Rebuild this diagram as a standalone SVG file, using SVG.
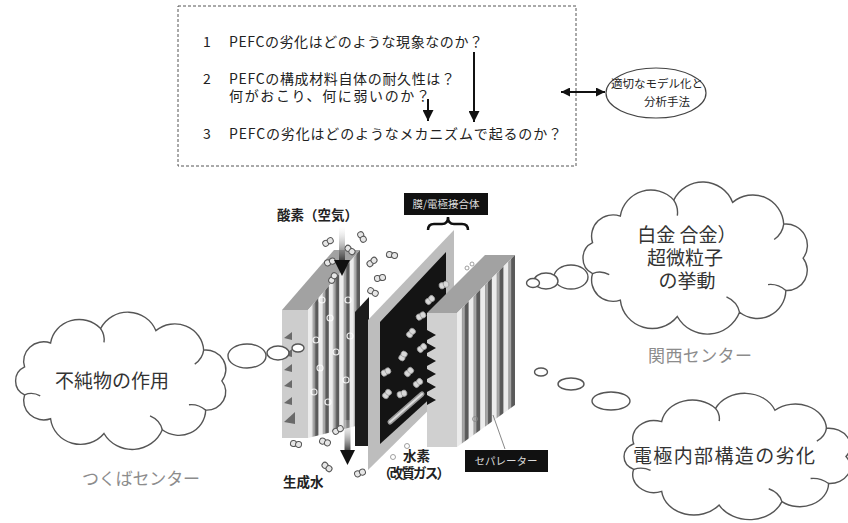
<svg xmlns="http://www.w3.org/2000/svg" xmlns:xlink="http://www.w3.org/1999/xlink" width="848" height="523" viewBox="0 0 848 523">
  <style>
    text { font-family: 'Noto Sans CJK JP', 'Noto Sans', sans-serif; }
    .q { font-size: 14px; fill: #222; }
    .m { font-size: 11.5px; fill: #222; }
    .cl { font-size: 19px; fill: #333; }
    .ctr { font-size: 17px; fill: #8c8c8c; }
    .bold { font-weight: 700; fill: #222; font-size: 13.5px; }
    .tag { font-size: 10.5px; fill: #dcdcdc; }
    .cloud { fill: #fff; stroke: #555; stroke-width: 1.4; }
    .curl { fill: none; stroke: #555; stroke-width: 1.4; }
    .bub { fill: #fff; stroke: #555; stroke-width: 1.4; }
    .arrow { stroke: #111; stroke-width: 2; fill: none; }
    .mol { fill: #e6e6e6; stroke: #555; stroke-width: 1; }
    .h2 { fill: #d8d8d8; stroke: #9a9a9a; stroke-width: 0.8; }
  </style>
  <defs>
    <marker id="head" viewBox="0 0 10 10" refX="10" refY="5" markerWidth="11" markerHeight="11" markerUnits="userSpaceOnUse" orient="auto-start-reverse">
      <path d="M0,0 L10,5 L0,10 Z" fill="#111"/>
    </marker>
    <marker id="headS" viewBox="0 0 10 10" refX="10" refY="5" markerWidth="9" markerHeight="9" markerUnits="userSpaceOnUse" orient="auto-start-reverse">
      <path d="M0,0 L10,5 L0,10 Z" fill="#111"/>
    </marker>
    <!-- generic cloud outline in a 200 x 125 box -->
    <path id="cloudShape" vector-effect="non-scaling-stroke" d="M190,62.5 A17,17 0 0 1 175.5,89.8 A24,24 0 0 1 136.6,108.2 A29,29 0 0 1 84.3,111.7 A27,27 0 0 1 36.4,97.9 A18,18 0 0 1 13.1,75.5 A14.5,14.5 0 0 1 13.1,49.5 A18,18 0 0 1 36.4,27.1 A26,26 0 0 1 81.3,13.6 A27,27 0 0 1 130.8,15.5 A26,26 0 0 1 173.7,33.8 A18,18 0 0 1 190,62.5 Z"/>
    <path id="cloudCurls" vector-effect="non-scaling-stroke" d="M136.6,108.2 q-2,-9 -11,-13 M13.1,75.5 q7,-3 14,1 M81.3,13.6 q4,6 3,13 M173.7,33.8 q-1,8 -8,13 M175.5,89.8 q-7,-6 -15,-5"/>
    <pattern id="ribL" patternUnits="userSpaceOnUse" width="10.4" height="20" patternTransform="translate(308 0)">
      <rect width="10.4" height="20" fill="#5a5a5a"/>
      <rect width="4.6" height="20" fill="#ececec"/>
      <rect x="4.6" width="2.4" height="20" fill="#a6a6a6"/>
    </pattern>
    <pattern id="ribR" patternUnits="userSpaceOnUse" width="11.6" height="20" patternTransform="translate(457 0)">
      <rect width="11.6" height="20" fill="#5a5a5a"/>
      <rect width="5" height="20" fill="#ececec"/>
      <rect x="5" width="2.8" height="20" fill="#a6a6a6"/>
    </pattern>
    <linearGradient id="shaft" x1="0" y1="0" x2="0" y2="1">
      <stop offset="0" stop-color="#fff" stop-opacity="0.2"/>
      <stop offset="1" stop-color="#333"/>
    </linearGradient>
    <g id="o2">
      <circle cx="-2.6" cy="0" r="3" class="mol"/>
      <circle cx="2.6" cy="0" r="3" class="mol"/>
    </g>
    <g id="hmol">
      <ellipse cx="-2.2" cy="0" rx="2.8" ry="3.2" class="h2"/>
      <ellipse cx="2.2" cy="0" rx="2.8" ry="3.2" class="h2"/>
    </g>
  </defs>

  <rect width="848" height="523" fill="#fff"/>

  <!-- research questions -->
  <g id="question-box">
    <rect x="178" y="6" width="398" height="160" fill="none" stroke="#555" stroke-width="1" stroke-dasharray="3 2"/>
    <text class="q" x="203" y="47">1</text>
    <text class="q" x="229" y="47" textLength="254" lengthAdjust="spacing">PEFCの劣化はどのような現象なのか？</text>
    <text class="q" x="203" y="84">2</text>
    <text class="q" x="229" y="84" textLength="226" lengthAdjust="spacing">PEFCの構成材料自体の耐久性は？</text>
    <text class="q" x="229" y="101" textLength="201" lengthAdjust="spacing">何がおこり、何に弱いのか？</text>
    <text class="q" x="203" y="139">3</text>
    <text class="q" x="229" y="139" textLength="333" lengthAdjust="spacing">PEFCの劣化はどのようなメカニズムで起るのか？</text>
  </g>

  <g id="modeling">
    <ellipse cx="656" cy="93" rx="50" ry="25" fill="#fff" stroke="#444" stroke-width="1.2"/>
    <text class="m" x="657" y="88" text-anchor="middle">適切なモデル化と</text>
    <text class="m" x="667" y="106" text-anchor="middle">分析手法</text>
  </g>

  <g id="connectors">
    <line class="arrow" x1="474" y1="52" x2="474" y2="122" marker-end="url(#head)"/>
    <line class="arrow" x1="428" y1="99" x2="428" y2="121" marker-end="url(#head)"/>
    <line class="arrow" x1="561" y1="92" x2="605" y2="92" stroke-width="1.5" marker-start="url(#headS)" marker-end="url(#headS)"/>
  </g>

  <!-- single cell, exploded view -->
  <g id="fuel-cell">
    <!-- cathode-side separator -->
    <rect x="282" y="310" width="26" height="128" fill="#cdcdcd"/>
    <polygon points="282,310 308,310 360,250 334,250" fill="#a2a2a2"/>
    <polygon points="308,310 360,250 360,425 308,438" fill="url(#ribL)"/>
    <g fill="#6a6a6a">
      <polygon points="284,338 292,332 292,340"/>
      <polygon points="284,355 292,349 292,357"/>
      <polygon points="284,370 292,364 292,372"/>
      <polygon points="284,386 292,380 292,388"/>
      <polygon points="284,403 292,397 292,405"/>
      <polygon points="284,422 295,412 295,424"/>
    </g>
    <g fill="none" stroke="#fff" stroke-width="1.2" opacity="0.85">
      <circle cx="316" cy="340" r="3"/>
      <circle cx="320" cy="368" r="3"/>
      <circle cx="314" cy="392" r="3"/>
      <circle cx="330" cy="318" r="3"/>
      <circle cx="336" cy="352" r="3"/>
      <circle cx="328" cy="402" r="3"/>
      <circle cx="348" cy="300" r="3"/>
      <circle cx="350" cy="336" r="3"/>
      <circle cx="346" cy="380" r="3"/>
      <circle cx="322" cy="300" r="3"/>
    </g>
    <!-- electrode layer -->
    <polygon points="355,312 369,297 369,446 355,446" fill="#1c1c1c"/>
    <!-- membrane electrode assembly -->
    <polygon points="368,320 454,230 454,385 368,470" fill="#bdbdbd"/>
    <polygon points="380,322 446,252 446,384 380,444" fill="#141414"/>
    <g>
      <use xlink:href="#hmol" transform="translate(444 285) rotate(-20)"/>
      <use xlink:href="#hmol" transform="translate(430 300) rotate(-40)"/>
      <use xlink:href="#hmol" transform="translate(421 316) rotate(-30)"/>
      <use xlink:href="#hmol" transform="translate(411 333) rotate(-50)"/>
      <use xlink:href="#hmol" transform="translate(422 348) rotate(-40)"/>
      <use xlink:href="#hmol" transform="translate(403 356) rotate(-60)"/>
      <use xlink:href="#hmol" transform="translate(409 372) rotate(-45)"/>
      <use xlink:href="#hmol" transform="translate(386 372) rotate(-30)"/>
      <use xlink:href="#hmol" transform="translate(418 383) rotate(-40)"/>
      <use xlink:href="#hmol" transform="translate(402 394) rotate(-20)"/>
      <use xlink:href="#hmol" transform="translate(387 394) rotate(-50)"/>
    </g>
    <line x1="390" y1="422" x2="422" y2="394" stroke="#9a9a9a" stroke-width="5" stroke-linecap="round"/>
    <line x1="390" y1="422" x2="422" y2="394" stroke="#dcdcdc" stroke-width="2" stroke-linecap="round"/>
    <!-- anode-side separator -->
    <rect x="427" y="313" width="30" height="134" fill="#d0d0d0"/>
    <polygon points="427,313 457,313 515,255 485,255" fill="#a2a2a2"/>
    <polygon points="457,313 515,255 515,405 457,447" fill="url(#ribR)"/>
    <g fill="#141414">
      <polygon points="427,330 436,335 427,340"/>
      <polygon points="427,343 436,348 427,353"/>
      <polygon points="427,356 436,361 427,366"/>
      <polygon points="427,369 436,374 427,379"/>
      <polygon points="427,382 436,387 427,392"/>
      <polygon points="427,395 436,400 427,405"/>
    </g>
    <!-- oxygen and product water -->
    <use xlink:href="#o2" transform="translate(328 242) rotate(-30)"/>
    <use xlink:href="#o2" transform="translate(362 237) rotate(60)"/>
    <use xlink:href="#o2" transform="translate(330 262) rotate(-20)"/>
    <use xlink:href="#o2" transform="translate(350 250) rotate(40)"/>
    <use xlink:href="#o2" transform="translate(392 255) rotate(10)"/>
    <use xlink:href="#o2" transform="translate(380 278) rotate(-10)"/>
    <use xlink:href="#o2" transform="translate(372 262) rotate(-40)"/>
    <use xlink:href="#o2" transform="translate(373 292) rotate(30)"/>
    <use xlink:href="#o2" transform="translate(333 278) rotate(-60)"/>
    <use xlink:href="#o2" transform="translate(325 442) rotate(20)"/>
    <use xlink:href="#o2" transform="translate(338 430) rotate(-30)"/>
    <use xlink:href="#o2" transform="translate(327 467) rotate(40)"/>
    <use xlink:href="#o2" transform="translate(360 473) rotate(-20)"/>
    <use xlink:href="#o2" transform="translate(296 444) rotate(10)"/>
    <g fill="none" stroke="#888" stroke-width="0.8">
      <circle cx="393" cy="457" r="2.5"/>
      <circle cx="407" cy="446" r="2.5"/>
      <circle cx="472" cy="264" r="2"/>
      <circle cx="467" cy="268" r="2"/>
      <circle cx="475" cy="419" r="2.5"/>
    </g>
    <!-- gas flow arrows -->
    <rect x="339" y="226" width="6" height="36" fill="url(#shaft)"/>
    <polygon points="334,260 350,260 342,276" fill="#111"/>
    <rect x="344.5" y="420" width="6" height="32" fill="url(#shaft)"/>
    <polygon points="340,450 355,450 347.5,465" fill="#111"/>
    <!-- labels -->
    <text class="bold" x="277" y="220" textLength="81" lengthAdjust="spacing">酸素（空気）</text>
    <rect x="404" y="193" width="84" height="22" fill="#111"/>
    <text class="tag" x="446" y="208" text-anchor="middle">膜/電極接合体</text>
    <path d="M428,230 q0,-6 6,-6 h8 q6,0 6,-7 q0,7 6,7 h8 q6,0 6,6" fill="none" stroke="#111" stroke-width="2.5"/>
    <line x1="493" y1="415" x2="505" y2="449" stroke="#888" stroke-width="1"/>
    <rect x="465" y="450" width="83" height="22" fill="#111"/>
    <text class="tag" x="506" y="465" text-anchor="middle">セパレーター</text>
    <text class="bold" x="403" y="461">水素</text>
    <text class="bold" x="378" y="478" textLength="72" lengthAdjust="spacing">（改質ガス）</text>
    <text class="bold" x="283" y="487">生成水</text>
  </g>

  <!-- impurity effects -->
  <g id="cloud-tsukuba">
    <use xlink:href="#cloudShape" class="cloud" transform="translate(10 314) scale(1.115 1.07)"/>
    <use xlink:href="#cloudCurls" class="curl" transform="translate(10 314) scale(1.115 1.07)"/>
    <ellipse class="bub" cx="247" cy="356" rx="19" ry="12"/>
    <ellipse class="bub" cx="278" cy="353" rx="11" ry="7"/>
    <ellipse class="bub" cx="298" cy="348" rx="6" ry="4"/>
    <text class="cl" x="55" y="388" font-size="19.5">不純物の作用</text>
    <text class="ctr" x="82" y="485" textLength="118" lengthAdjust="spacing">つくばセンター</text>
  </g>

  <!-- platinum nanoparticles -->
  <g id="cloud-kansai">
    <use xlink:href="#cloudShape" class="cloud" transform="translate(577 184) scale(1.19 1.186)"/>
    <use xlink:href="#cloudCurls" class="curl" transform="translate(577 184) scale(1.19 1.186)"/>
    <ellipse class="bub" cx="571" cy="277" rx="17" ry="12"/>
    <ellipse class="bub" cx="546" cy="281" rx="12" ry="8"/>
    <ellipse class="bub" cx="533" cy="283" rx="6.5" ry="4.5"/>
    <text class="cl" x="687" y="242" text-anchor="middle">白金 合金）</text>
    <text class="cl" x="685" y="265" text-anchor="middle">超微粒子</text>
    <text class="cl" x="687" y="288" text-anchor="middle">の挙動</text>
    <text class="ctr" x="648" y="362" textLength="104" lengthAdjust="spacing">関西センター</text>
  </g>

  <!-- electrode structure degradation -->
  <g id="cloud-structure">
    <use xlink:href="#cloudShape" class="cloud" transform="translate(618 395) scale(1.2 0.985)"/>
    <use xlink:href="#cloudCurls" class="curl" transform="translate(618 395) scale(1.2 0.985)"/>
    <ellipse class="bub" cx="541" cy="372" rx="6.5" ry="4"/>
    <ellipse class="bub" cx="571" cy="384" rx="13" ry="6"/>
    <ellipse class="bub" cx="611" cy="401" rx="19" ry="9"/>
    <text class="cl" x="633" y="463" font-size="20" textLength="182" lengthAdjust="spacing">電極内部構造の劣化</text>
  </g>
</svg>
